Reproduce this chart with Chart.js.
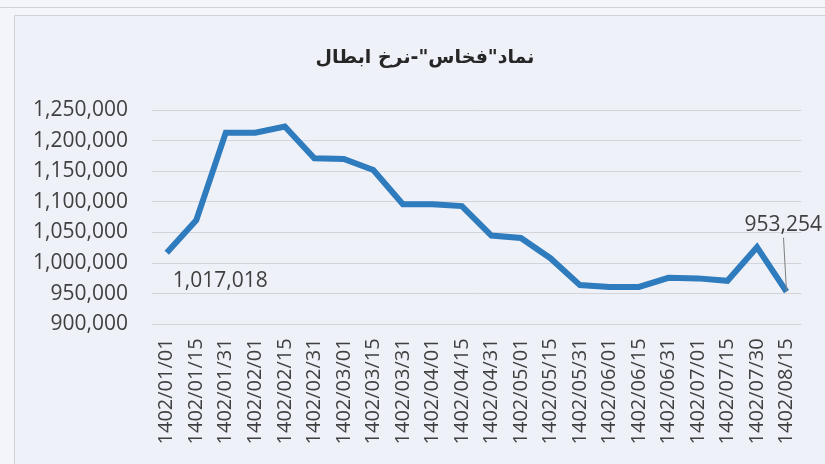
<!DOCTYPE html>
<html>
<head>
<meta charset="utf-8">
<script src="https://cdn.jsdelivr.net/npm/chart.js@4.4.0/dist/chart.umd.min.js"></script>
<style>
  html, body { margin: 0; padding: 0; background: #eff1f8; }
  #wrap { width: 825px; height: 464px; position: relative; }
</style>
</head>
<body>
<div id="wrap"><canvas id="c" width="825" height="464"></canvas></div>
<script>
const categories = [
  '1402/01/01','1402/01/15','1402/01/31','1402/02/01','1402/02/15','1402/02/31',
  '1402/03/01','1402/03/15','1402/03/31','1402/04/01','1402/04/15','1402/04/31',
  '1402/05/01','1402/05/15','1402/05/31','1402/06/01','1402/06/15','1402/06/31',
  '1402/07/01','1402/07/15','1402/07/30','1402/08/15'
];
const redemptionPrice = [
  1017018, 1070000, 1213000, 1213000, 1223000, 1171000,
  1170000, 1152000, 1096000, 1096000, 1093000, 1045000,
  1041000, 1008000, 964000, 961000, 961000, 976000,
  975000, 971000, 1026000, 953254
];
const yMin = 900000;
const yMax = 1250000;
const yStep = 50000;
const titleText = 'نماد"فخاس"-نرخ ابطال';
const labelledPoints = [0, 21];

const fmt = v => Number(v).toLocaleString('en-US');

const backgroundPlugin = {
  id: 'bg',
  beforeDraw(chart) {
    const ctx = chart.ctx;
    ctx.save();
    ctx.fillStyle = '#f4f5fa';
    ctx.fillRect(0, 0, chart.width, chart.height);
    ctx.fillStyle = '#eff1f8';
    ctx.fillRect(15, 15, chart.width - 15, chart.height - 15);
    ctx.strokeStyle = '#cfd1d8';
    ctx.lineWidth = 1;
    ctx.beginPath();
    ctx.moveTo(0, 7.5); ctx.lineTo(chart.width, 7.5);
    ctx.moveTo(14.5, chart.height); ctx.lineTo(14.5, 15.5); ctx.lineTo(chart.width, 15.5);
    ctx.stroke();
    // chart title
    ctx.font = 'bold 19px "DejaVu Sans"';
    ctx.fillStyle = '#262626';
    ctx.textAlign = 'center';
    ctx.textBaseline = 'middle';
    ctx.direction = 'rtl';
    ctx.fillText(titleText, 425, 58);
    ctx.restore();
  }
};

const labelPlugin = {
  id: 'pointLabels',
  afterDatasetsDraw(chart) {
    const ctx = chart.ctx;
    const meta = chart.getDatasetMeta(0);
    ctx.save();
    ctx.font = '21px "Open Sans"';
    ctx.fillStyle = '#404040';
    ctx.textBaseline = 'middle';
    labelledPoints.forEach(i => {
      const p = meta.data[i];
      const txt = fmt(redemptionPrice[i]);
      if (i === 0) {
        ctx.textAlign = 'left';
        ctx.fillText(txt, p.x + 6, p.y + 28);
      } else {
        ctx.textAlign = 'right';
        ctx.fillText(txt, chart.width - 3, p.y - 67);
        ctx.strokeStyle = '#7f7f7f';
        ctx.lineWidth = 1;
        ctx.beginPath();
        ctx.moveTo(p.x - 3, p.y - 54);
        ctx.lineTo(p.x, p.y);
        ctx.stroke();
      }
    });
    ctx.restore();
  }
};

new Chart(document.getElementById('c'), {
  type: 'line',
  data: {
    labels: categories,
    datasets: [{
      data: redemptionPrice,
      borderColor: '#2e7bbd',
      borderWidth: 6,
      pointRadius: 0,
      pointHoverRadius: 0,
      tension: 0,
      fill: false
    }]
  },
  plugins: [backgroundPlugin, labelPlugin],
  options: {
    responsive: false,
    animation: false,
    devicePixelRatio: 1,
    layout: { padding: { left: 0, right: 22, top: 110, bottom: 0 } },
    plugins: {
      legend: { display: false },
      tooltip: { enabled: false },
      title: { display: false }
    },
    scales: {
      x: {
        type: 'category',
        offset: true,
        afterFit(scale) { scale.height = 139.7; },
        grid: { display: false, drawTicks: false },
        border: { display: false },
        ticks: {
          autoSkip: false,
          maxRotation: 90,
          minRotation: 90,
          padding: 14,
          color: '#404040',
          font: { family: '"Open Sans"', size: 20 }
        }
      },
      y: {
        min: yMin,
        max: yMax,
        afterFit(scale) { scale.width = 152; },
        grid: { color: '#d2d4da', lineWidth: 1, drawTicks: false },
        border: { display: false },
        ticks: {
          stepSize: yStep,
          padding: 24,
          color: '#404040',
          font: { family: '"Open Sans"', size: 21 },
          callback: v => fmt(v)
        }
      }
    }
  }
});
</script>
</body>
</html>
